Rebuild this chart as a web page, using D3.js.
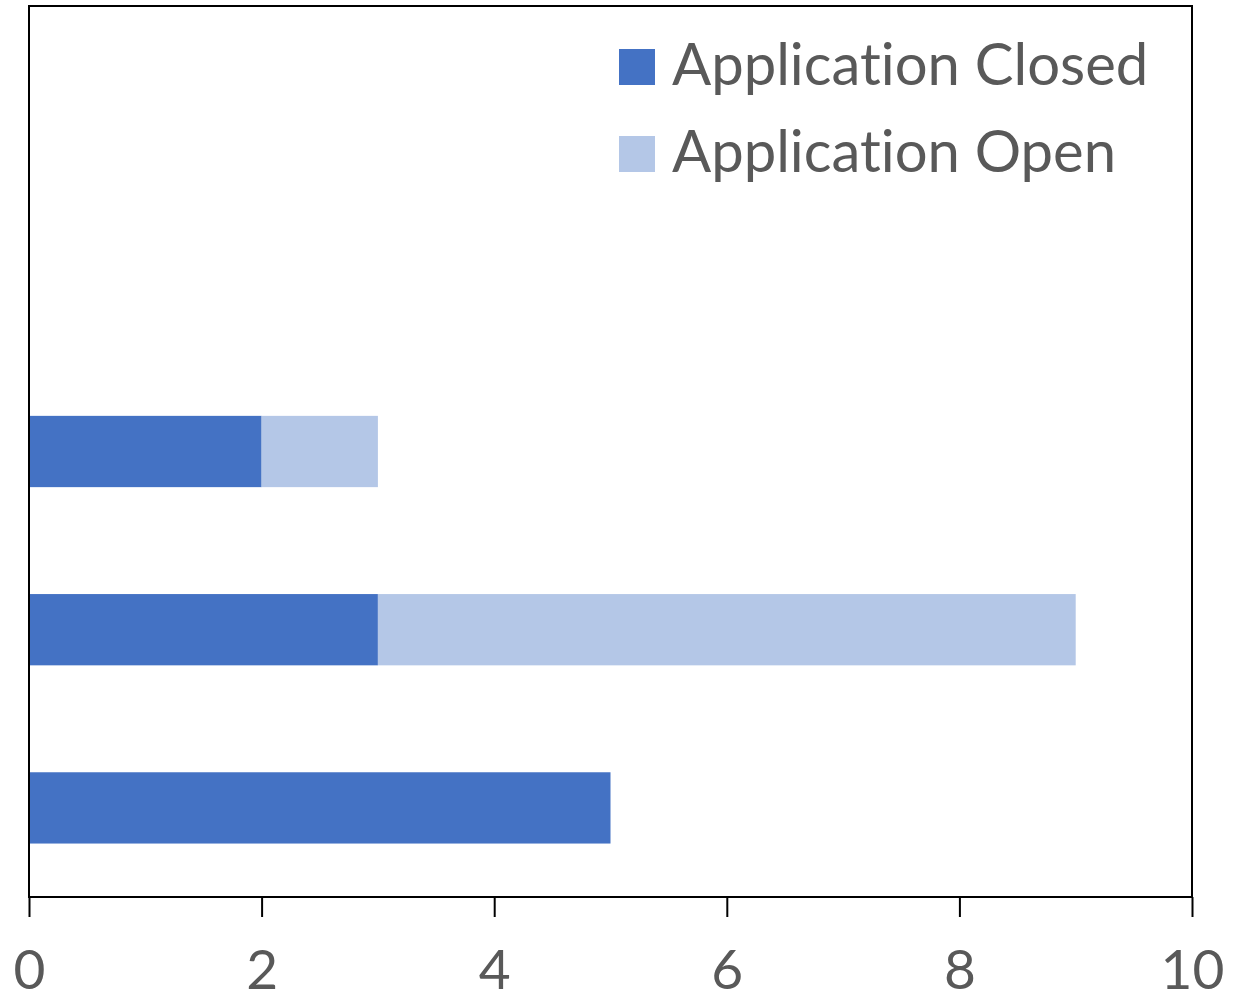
<!DOCTYPE html>
<html><head><meta charset="utf-8">
<script src="https://cdn.jsdelivr.net/npm/d3@7"></script>
<style>html,body{margin:0;padding:0;background:#fff;overflow:hidden}text{font-variant-ligatures:none}</style>
</head><body><svg id="c" width="1253" height="1003"></svg>
<script>
const categories = ["1", "2", "3", "4", "5"];
const closedValues = [5, 3, 2, 0, 0];
const openValues = [0, 6, 1, 0, 0];
const seriesNames = ["Application Closed", "Application Open"];
const xTicks = [0, 2, 4, 6, 8, 10];

const colors = ["#4472C4", "#B4C7E7"];
const mLeft = 29, mRight = 1192, mTop = 6, mBottom = 897;
const font = "Lato, 'Open Sans', sans-serif";

const svg = d3.select("#c");
const x = d3.scaleLinear().domain([0, 10]).range([mLeft, mRight]);
const y = d3.scaleBand().domain(categories).range([mBottom, mTop]).paddingInner(0.6).paddingOuter(0.3);

const rows = categories.map((c, i) => ({cat: c, closed: closedValues[i], open: openValues[i]}));
const stack = d3.stack().keys(["closed", "open"])(rows);

svg.append("g").selectAll("g").data(stack).join("g")
  .attr("fill", (d, i) => colors[i])
  .selectAll("rect").data(d => d.filter(p => p[1] - p[0] > 0)).join("rect")
  .attr("x", d => x(d[0]))
  .attr("width", d => x(d[1]) - x(d[0]))
  .attr("y", d => y(d.data.cat))
  .attr("height", y.bandwidth());

// frame
svg.append("rect").attr("x", mLeft).attr("y", mTop).attr("width", mRight - mLeft).attr("height", mBottom - mTop)
  .attr("fill", "none").attr("stroke", "#000").attr("stroke-width", 2);

// x axis
const ax = svg.append("g").attr("transform", `translate(0,${mBottom})`)
  .call(d3.axisBottom(x).tickValues(xTicks).tickSize(20).tickPadding(33).tickFormat(d3.format("d")));
ax.select(".domain").remove();
ax.selectAll("line").attr("stroke", "#000").attr("stroke-width", 2);
ax.selectAll("text").attr("fill", "#595959").attr("font-family", font).attr("font-size", 55);

// legend
const lg = svg.append("g");
seriesNames.forEach((n, i) => {
  const yy = 49 + i * 87;
  lg.append("rect").attr("x", 619).attr("y", yy).attr("width", 36).attr("height", 36).attr("fill", colors[i]);
  lg.append("text").attr("x", 672).attr("y", yy + 36).attr("fill", "#595959")
    .attr("font-family", font).attr("font-size", 58).text(n);
});
</script></body></html>
